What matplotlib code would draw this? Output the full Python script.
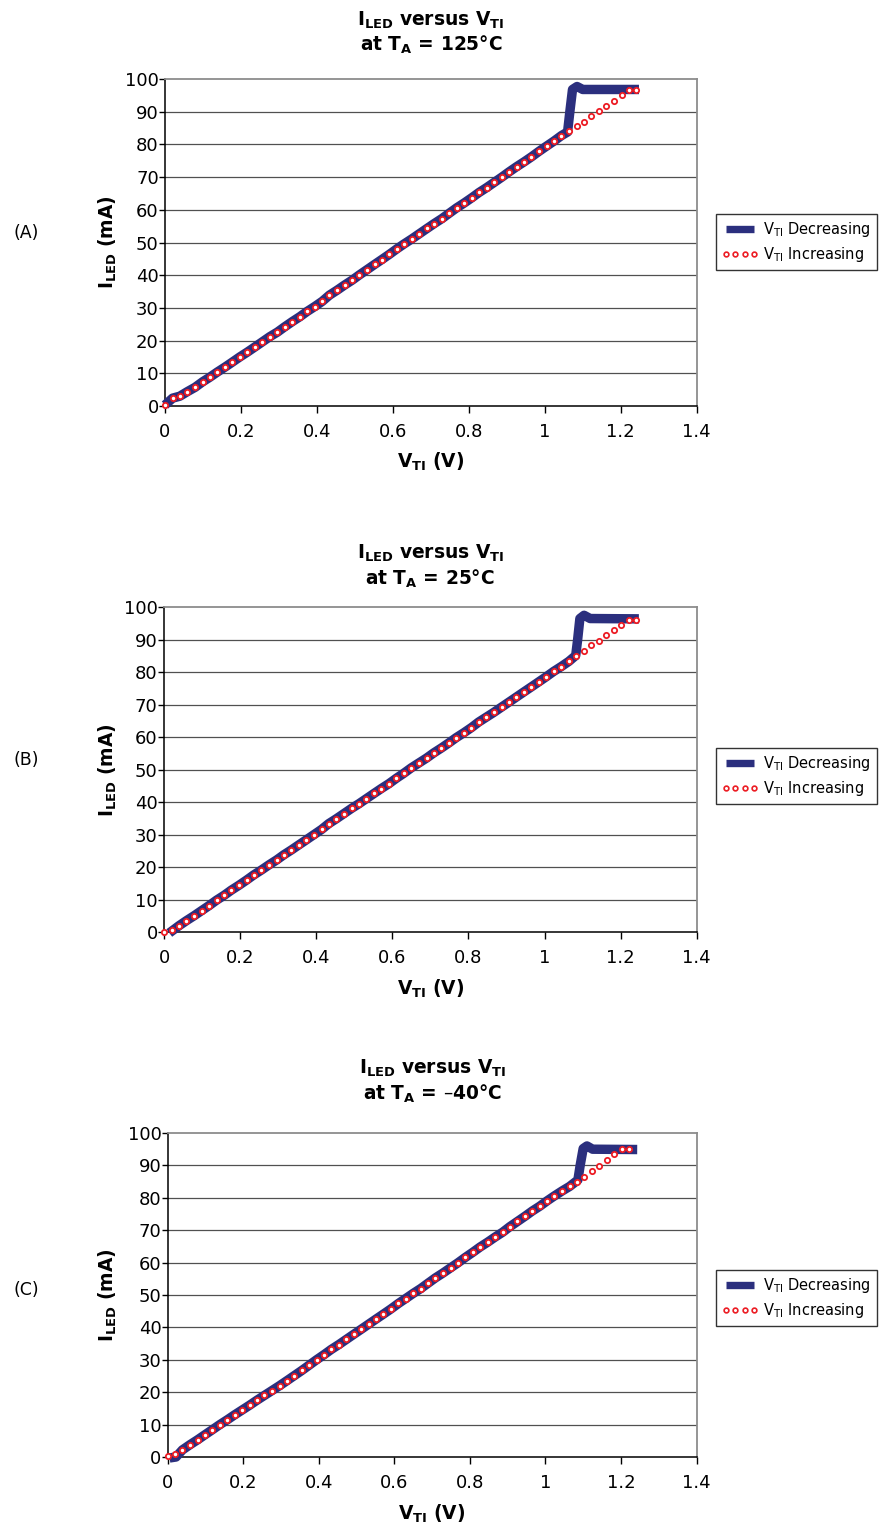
import matplotlib
matplotlib.use('Agg')
import matplotlib.pyplot as plt
from matplotlib.lines import Line2D

plt.rcParams['font.family'] = ['DejaVu Sans']
plt.rcParams['mathtext.fontset'] = 'dejavusans'
plt.rcParams['path.simplify'] = False

# ---------------- data ----------------
v_ti = [0.000, 0.020, 0.039, 0.059, 0.079, 0.099, 0.118, 0.138, 0.158, 0.177,
        0.197, 0.217, 0.236, 0.256, 0.276, 0.296, 0.315, 0.335, 0.355, 0.374,
        0.394, 0.414, 0.433, 0.453, 0.473, 0.493, 0.512, 0.532, 0.552, 0.571,
        0.591, 0.611, 0.630, 0.650, 0.670, 0.690, 0.709, 0.729, 0.749, 0.768,
        0.788, 0.808, 0.827, 0.847, 0.867, 0.887, 0.906, 0.926, 0.946, 0.965,
        0.985, 1.005, 1.024, 1.044, 1.064, 1.084, 1.103, 1.123, 1.143, 1.162,
        1.182, 1.202, 1.221, 1.241]

# I_LED (mA), V_TI increasing
a_inc = [0.3, 2.4, 3.0, 4.4, 5.7, 7.4, 8.8, 10.4, 11.9, 13.4,
         15.0, 16.5, 18.0, 19.6, 21.2, 22.6, 24.2, 25.8, 27.3, 28.9,
         30.4, 32.0, 33.9, 35.4, 37.0, 38.5, 40.1, 41.7, 43.3, 44.8,
         46.4, 48.1, 49.6, 51.1, 52.7, 54.3, 55.8, 57.3, 59.0, 60.6,
         62.1, 63.7, 65.3, 66.8, 68.4, 70.0, 71.6, 73.2, 74.7, 76.2,
         77.9, 79.5, 81.0, 82.7, 84.1, 85.6, 86.9, 88.7, 90.3, 91.8,
         93.4, 95.1, 96.6, 96.6]
b_inc = [0.0, 0.5, 1.9, 3.5, 5.0, 6.6, 8.1, 9.8, 11.3, 12.9,
         14.4, 16.0, 17.6, 19.1, 20.7, 22.2, 23.8, 25.3, 26.9, 28.4,
         30.0, 31.6, 33.4, 34.9, 36.5, 38.1, 39.5, 41.1, 42.7, 44.2,
         45.7, 47.4, 48.9, 50.6, 52.1, 53.6, 55.2, 56.7, 58.3, 59.9,
         61.4, 63.0, 64.7, 66.2, 67.7, 69.3, 70.8, 72.4, 74.0, 75.5,
         77.1, 78.7, 80.3, 81.8, 83.4, 85.0, 86.7, 88.3, 89.8, 91.4,
         93.0, 94.6, 96.3, 96.3]
c_inc = [0.3, 0.8, 2.2, 3.8, 5.3, 6.9, 8.4, 10.0, 11.5, 13.0,
         14.5, 16.0, 17.5, 19.0, 20.5, 22.0, 23.5, 25.1, 26.7, 28.3,
         30.0, 31.6, 33.2, 34.7, 36.3, 37.9, 39.4, 41.0, 42.6, 44.1,
         45.7, 47.4, 48.9, 50.5, 52.0, 53.7, 55.3, 56.8, 58.4, 59.9,
         61.6, 63.2, 64.8, 66.3, 67.9, 69.4, 71.1, 72.7, 74.3, 75.9,
         77.4, 79.1, 80.6, 82.1, 83.5, 85.0, 86.5, 88.3, 89.9, 91.7,
         93.4, 95.1, 95.1]

# V_TI decreasing: shares the linear part, own start and snap-up portion
a_dec_head_x, a_dec_head_y = [], []
a_dec_from, a_dec_to = 0, 54
a_dec_tail_x = [1.060, 1.066, 1.073, 1.085, 1.100, 1.248]
a_dec_tail_y = [83.8, 90.0, 96.8, 97.7, 96.8, 96.8]

b_dec_head_x, b_dec_head_y = [0.014], [-0.3]
b_dec_from, b_dec_to = 2, 55
b_dec_tail_x = [1.082, 1.087, 1.093, 1.104, 1.120, 1.248]
b_dec_tail_y = [85.2, 90.0, 96.6, 97.6, 96.6, 96.5]

c_dec_head_x, c_dec_head_y = [0.005, 0.022], [-0.3, 0.0]
c_dec_from, c_dec_to = 2, 55
c_dec_tail_x = [1.086, 1.092, 1.100, 1.110, 1.125, 1.243]
c_dec_tail_y = [85.5, 90.0, 95.2, 96.0, 95.0, 94.9]

titles_1 = [r'$\mathbf{I_{LED}}$ versus $\mathbf{V_{TI}}$'] * 3
titles_2 = [r'at $\mathbf{T_A}$ = 125°C', r'at $\mathbf{T_A}$ = 25°C', r'at $\mathbf{T_A}$ = –40°C']
panel_tags = ['(A)', '(B)', '(C)']
x_ticks = [0, 0.2, 0.4, 0.6, 0.8, 1.0, 1.2, 1.4]
x_tick_labels = ['0', '0.2', '0.4', '0.6', '0.8', '1', '1.2', '1.4']
y_ticks = [0, 10, 20, 30, 40, 50, 60, 70, 80, 90, 100]
legend_labels = [r'$\mathregular{V_{TI}}$ Decreasing', r'$\mathregular{V_{TI}}$ Increasing']

# ---------------- layout ----------------
W, H = 885, 1528
fig = plt.figure(figsize=(W / 100, H / 100), dpi=100)
fig.patch.set_facecolor('white')

NAVY = '#2b2f7e'
RED = '#ec1c24'
GRID = '#505050'


def fx(px):
    return px / W


def fy(py):
    return 1 - py / H


panels = [
    dict(rect=(165, 79, 696.7, 406), inc=a_inc,
         head=(a_dec_head_x, a_dec_head_y), rng=(a_dec_from, a_dec_to),
         tail=(a_dec_tail_x, a_dec_tail_y),
         t1=20, t2=45, xl=462, leg=214, tag=233),
    dict(rect=(164, 607.5, 696.7, 932), inc=b_inc,
         head=(b_dec_head_x, b_dec_head_y), rng=(b_dec_from, b_dec_to),
         tail=(b_dec_tail_x, b_dec_tail_y),
         t1=553, t2=579, xl=989, leg=748, tag=760),
    dict(rect=(167.7, 1133, 696.5, 1457), inc=c_inc,
         head=(c_dec_head_x, c_dec_head_y), rng=(c_dec_from, c_dec_to),
         tail=(c_dec_tail_x, c_dec_tail_y),
         t1=1068, t2=1094, xl=1514, leg=1270, tag=1290),
]

for i, p in enumerate(panels):
    l, t, r, b = p['rect']
    ax = fig.add_axes([fx(l), fy(b), (r - l) / W, (b - t) / H])
    ax.set_xlim(0, 1.4)
    ax.set_ylim(0, 100)
    ax.set_xticks(x_ticks)
    ax.set_xticklabels(x_tick_labels)
    ax.set_yticks(y_ticks)
    ax.tick_params(axis='y', length=4, width=1, pad=0.5, labelsize=13, direction='out')
    ax.tick_params(axis='x', length=5, width=1, pad=7, labelsize=13, direction='out')
    for yv in y_ticks[1:-1]:
        ax.axhline(yv, color=GRID, lw=0.9, zorder=1)
    for s in ('left', 'bottom'):
        ax.spines[s].set_color('black')
        ax.spines[s].set_linewidth(1.1)
    for s in ('top', 'right'):
        ax.spines[s].set_color('#8c8c8c')
        ax.spines[s].set_linewidth(1.3)

    inc = p['inc']
    n = len(inc)
    hx, hy = p['head']
    f0, f1 = p['rng']
    tx, ty = p['tail']
    dec_x = list(hx) + v_ti[f0:f1] + list(tx)
    dec_y = list(hy) + inc[f0:f1] + list(ty)

    ax.plot(dec_x, dec_y, color=NAVY, lw=6.8, solid_joinstyle='round',
            solid_capstyle='butt', clip_on=False, zorder=3)
    ax.plot(v_ti[:n], inc, ls='none', marker='o', ms=3.8, mfc='white',
            mec=RED, mew=1.3, clip_on=False, zorder=4)

    cx = (l + r) / 2
    fig.text(fx(cx), fy(p['t1']), titles_1[i], ha='center', va='center',
             fontsize=13.4, fontweight='bold')
    fig.text(fx(cx), fy(p['t2']), titles_2[i], ha='center', va='center',
             fontsize=13.4, fontweight='bold')
    fig.text(fx(108), fy((t + b) / 2), r'$\mathbf{I_{LED}}$ (mA)', rotation=90,
             ha='center', va='center', fontsize=13.4, fontweight='bold')
    fig.text(fx(cx), fy(p['xl']), r'$\mathbf{V_{TI}}$ (V)', ha='center', va='center',
             fontsize=13.4, fontweight='bold')
    fig.text(fx(26), fy(p['tag']), panel_tags[i], ha='center', va='center', fontsize=12.5)

    handles = [Line2D([], [], color=NAVY, lw=5.3, solid_capstyle='butt'),
               Line2D([], [], ls='none', marker='o', ms=3.4, mfc='white', mec=RED, mew=1.2)]
    leg = fig.legend(handles, legend_labels, loc='upper left',
                     bbox_to_anchor=(fx(716), fy(p['leg'])), bbox_transform=fig.transFigure,
                     frameon=True, fancybox=False, edgecolor='black', fontsize=10.5,
                     numpoints=4, handlelength=2.5, handletextpad=0.35, borderpad=0.4,
                     labelspacing=0.4, borderaxespad=0, handleheight=0.7)
    leg.get_frame().set_linewidth(1.0)

fig.savefig('out.png', dpi=100, facecolor='white')
